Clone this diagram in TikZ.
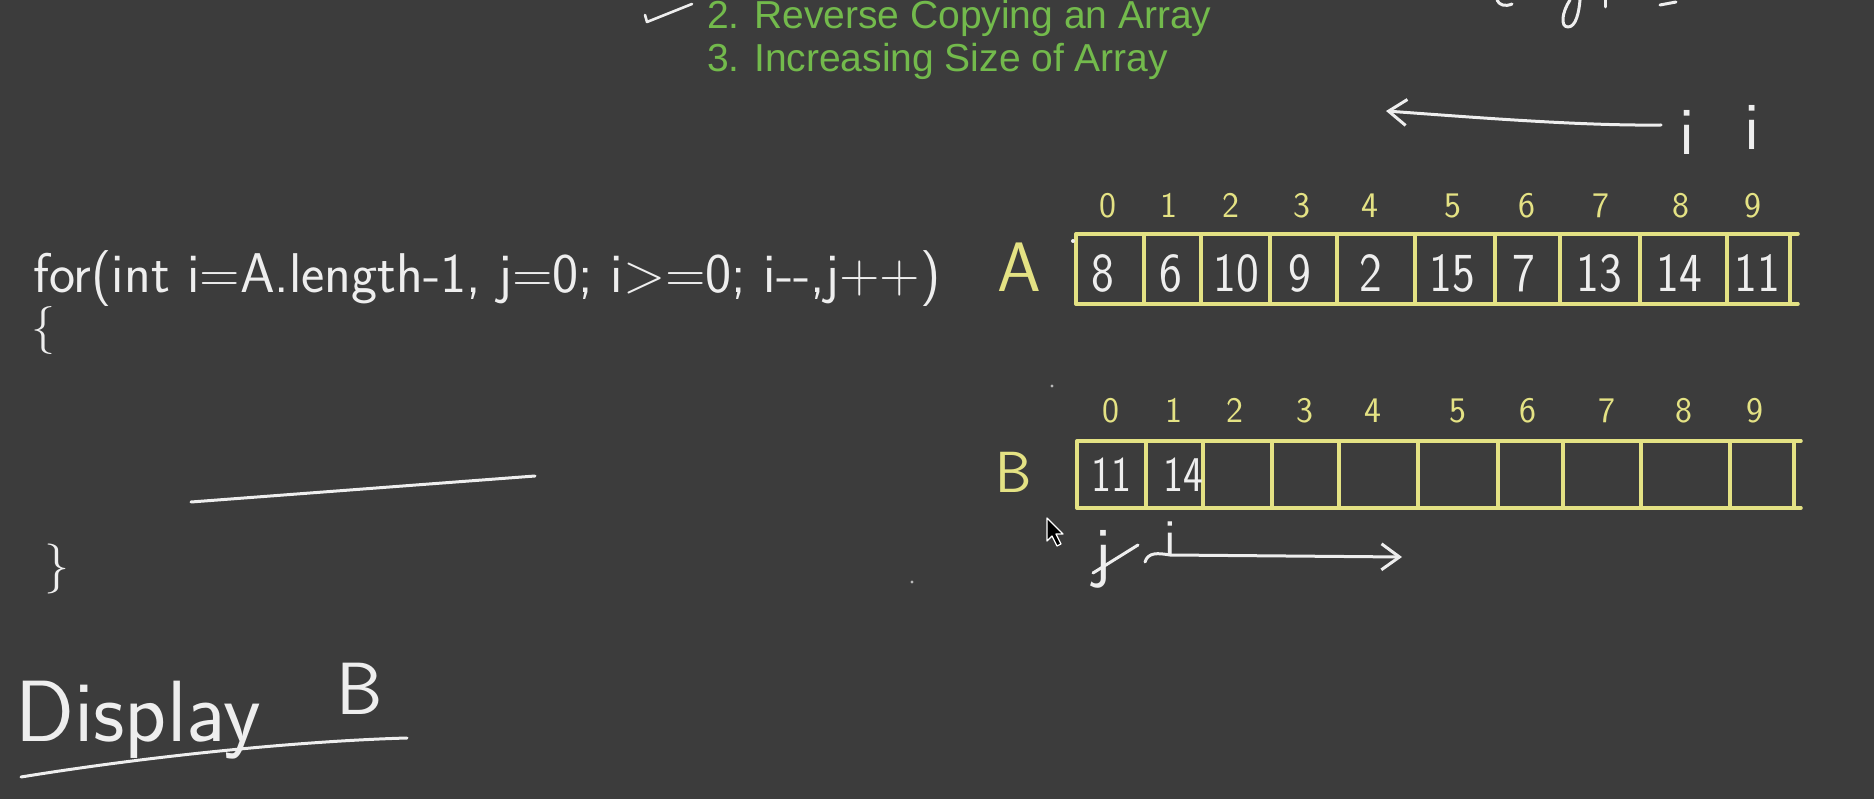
\documentclass[tikz,border=0pt]{standalone}
\usepackage{fontspec}
\newfontfamily\headfont{Liberation Sans}
\usetikzlibrary{arrows.meta}
\definecolor{bg}{RGB}{60,60,60}
\definecolor{hgreen}{RGB}{115,186,76}
\definecolor{ayellow}{RGB}{228,226,132}
\definecolor{chalk}{RGB}{238,238,238}
\newcommand{\fsz}[1]{\fontsize{#1}{#1}\selectfont}
\tikzset{
  pen/.style={draw=chalk, line width=3pt, line cap=round, line join=round},
  ypen/.style={draw=ayellow, line width=3.5pt, line cap=round},
  hand/.style={text=chalk, inner sep=0pt, font=\sffamily},
  val/.style={text=chalk, inner sep=0pt, anchor=base, font=\sffamily\fsz{55}},
  bval/.style={text=chalk, inner sep=0pt, anchor=base, font=\sffamily\fsz{50}},
  idx/.style={text=ayellow, inner sep=0pt, anchor=base, font=\sffamily\fsz{36}},
  lbl/.style={text=ayellow, inner sep=0pt, anchor=base, font=\sffamily\fsz{66}},
  head/.style={text=hgreen, inner sep=0pt, anchor=base west, font=\headfont\fsz{39}},
  barb/.style={-{Straight Barb[length=18pt,width=26pt]}},
}
\begin{document}
\begin{tikzpicture}[x=1pt,y=-1pt]
\useasboundingbox (0,0) rectangle (1874,799);
\fill[bg] (0,0) rectangle (1874,799);

% header
\node[head] (h2) at (707,29) {2. Reverse Copying an Array};
\node[head] (h3) at (707,72) {3. Increasing Size of Array};
\draw[pen, line width=2.6pt] (645,15) -- (647,22) -- (692,4);

% cut-off scribble top right
\draw[pen] (1497,0) .. controls (1499,5) and (1505,7) .. (1512,4);
\draw[pen] (1570,0) .. controls (1562,12) and (1560,27) .. (1568,27) .. controls (1576,27) and (1579,12) .. (1580,0);
\draw[pen] (1605,0) -- (1605,7);
\draw[pen] (1660,5) -- (1676,2);

% top arrow with i markers
\coordinate (tArrS) at (1661,125);
\coordinate (tArrE) at (1386,111);
\draw[pen, barb] (tArrS) .. controls (1580,126) and (1470,117) .. (tArrE);
\node[hand, anchor=base, font=\sffamily\fsz{68}] (iOld) at (1687,155) {i};
\node[hand, anchor=base, font=\sffamily\fsz{68}] (iNew) at (1752,150) {i};

% for loop
\node[hand, anchor=base west, font=\sffamily\fsz{56}] (forLoop) at (33,293)
  {\scalebox{0.99}[1]{for(int i=A.length-1, j=0; i>=0; i-{}-,j++)}};
\node[hand, font=\sffamily\fsz{48}] (lbrace) at (43,331) {\{};
\draw[pen] (191,502) -- (535,476);
\node[hand, font=\sffamily\fsz{50}] (rbrace) at (57,569) {\}};

% Display B
\node[hand, anchor=base west, font=\sffamily\fsz{87}] (disp) at (15,741) {Display};
\node[hand, anchor=base west, font=\sffamily\fsz{74}] (dispB) at (336,714) {B};
\draw[pen] (21,777) .. controls (150,756) and (300,741) .. (407,738);

% array A
\node[lbl, font=\sffamily\fsz{70}] (labA) at (1019,292) {A};
\draw[ypen] (1076,234) -- (1798,234);
\draw[ypen] (1076,304) -- (1798,304);
\foreach \x in {1076,1144,1201,1270,1337,1415,1495,1560,1640,1727,1790}
  \draw[ypen] (\x,234) -- (\x,304);
\foreach \x [count=\k from 0] in {1108,1169,1231,1302,1370,1453,1527,1601,1681,1753}
  \node[idx] (aidx\k) at (\x,218) {\k};
\foreach \v/\x [count=\k from 0] in {8/1103,6/1171,10/1236,9/1300,2/1371,15/1452,7/1524,13/1599,14/1679,11/1757}
  \node[val] (aval\k) at (\x,292) {\scalebox{0.88}[1]{\v}};
\fill[chalk] (1073,241) circle (2);

% array B
\node[lbl, font=\sffamily\fsz{58}] (labB) at (1014,492) {B};
\draw[ypen] (1077,441) -- (1801,441);
\draw[ypen] (1077,508) -- (1801,508);
\foreach \x in {1077,1146,1203,1272,1339,1418,1498,1563,1641,1730,1794}
  \draw[ypen] (\x,441) -- (\x,508);
\foreach \x [count=\k from 0] in {1111,1174,1235,1305,1373,1458,1528,1607,1684,1755}
  \node[idx] (bidx\k) at (\x,422) {\k};
\node[bval] (bval0) at (1111,491) {\scalebox{0.85}[1]{11}};
\node[bval] (bval1) at (1183,491) {\scalebox{0.85}[1]{14}};

% j, i markers under B
\node[hand, anchor=base, font=\sffamily\fsz{68}] (jMark) at (1103,574) {j};
\draw[pen] (1093,573) -- (1138,545);
\node[hand, anchor=base, font=\sffamily\fsz{52}] (iMark) at (1170,555) {i};
\coordinate (bArrS) at (1145,562);
\coordinate (bArrE) at (1402,557);
\draw[pen, barb] (bArrS) .. controls (1148,552) and (1158,553) .. (1170,555) -- (bArrE);

% stray dots
\fill[chalk!70!bg] (1052,386) circle (1.6);
\fill[chalk!70!bg] (912,582) circle (1.6);

% mouse cursor
\filldraw[fill=black, draw=white, line width=1.2pt, line join=round]
  (1047,518) -- (1047,541) -- (1052,536) -- (1057,546) -- (1061,544) -- (1056,534) -- (1063,534) -- cycle;
\end{tikzpicture}
\end{document}
